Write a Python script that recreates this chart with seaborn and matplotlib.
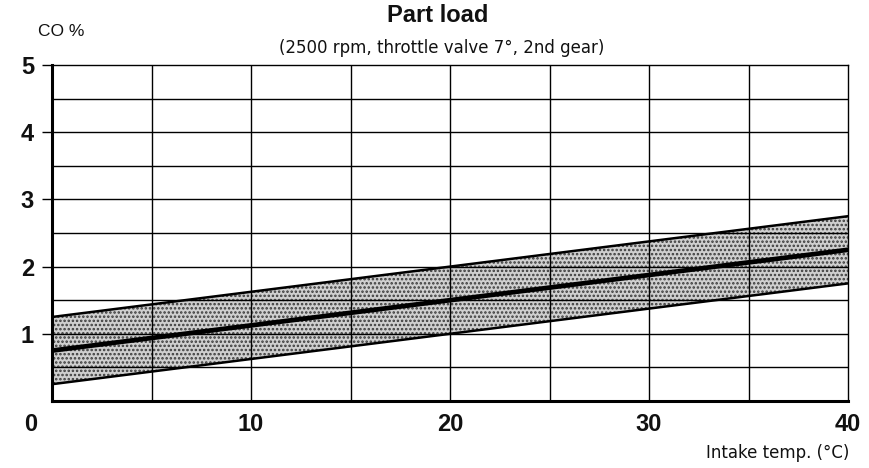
import matplotlib
matplotlib.use("Agg")
import matplotlib.pyplot as plt
import matplotlib.transforms as mtransforms
import seaborn as sns
import pandas as pd
import numpy as np

# Data
temps = [0, 40]
co_upper = [1.25, 2.75]
co_center = [0.75, 2.25]
co_lower = [0.25, 1.75]
x_ticks = [0, 10, 20, 30, 40]
y_ticks = [1, 2, 3, 4, 5]

sns.set_style("white")
plt.rcParams['font.family'] = ['Liberation Sans', 'DejaVu Sans']
plt.rcParams['hatch.linewidth'] = 1.2

fig = plt.figure(figsize=(8.69, 4.68), dpi=100)
ax = fig.add_axes([52/869, 1-401/468, (848-52)/869, (401-65)/468])

df = pd.DataFrame({"temp": temps, "upper": co_upper, "center": co_center, "lower": co_lower})

ax.fill_between(df["temp"], df["lower"], df["upper"], facecolor='#cfcfcf',
                edgecolor='#3a3a3a', hatch='....', linewidth=0, zorder=1)

# grid (visible through the band)
for xv in np.arange(5, 40, 5):
    ax.axvline(xv, color='black', lw=1.0, zorder=2)
for yv in np.arange(0.5, 5, 0.5):
    ax.axhline(yv, color='black', lw=1.0, zorder=2)

sns.lineplot(data=df, x="temp", y="upper", color='black', lw=1.8, ax=ax, zorder=3)
sns.lineplot(data=df, x="temp", y="lower", color='black', lw=1.8, ax=ax, zorder=3)
sns.lineplot(data=df, x="temp", y="center", color='black', lw=3.4, ax=ax, zorder=4)

ax.set_xlim(0, 40)
ax.set_ylim(0, 5)
ax.set_xlabel("")
ax.set_ylabel("")

for side in ['top', 'right']:
    ax.spines[side].set_linewidth(1.0)
for side in ['left', 'bottom']:
    ax.spines[side].set_linewidth(2.2)
for s in ax.spines.values():
    s.set_color('black')

ax.set_yticks(y_ticks)
ax.set_yticklabels([str(v) for v in y_ticks], fontsize=17, fontweight='bold', color='#111111')
ax.tick_params(axis='y', left=True, length=7, width=1.0, pad=6, color='black')
ax.set_xticks(x_ticks)
ax.set_xticklabels([str(v) for v in x_ticks], fontsize=17, fontweight='bold', color='#111111')
ax.tick_params(axis='x', bottom=False, pad=5)
lbl0 = ax.get_xticklabels()[0]
lbl0.set_transform(lbl0.get_transform() + mtransforms.ScaledTranslation(-0.21, 0, fig.dpi_scale_trans))

fig.text(438/869, 1-16/468, "Part load", ha='center', va='center', fontsize=17, fontweight='bold', color='#111111')
fig.text(442/869, 1-48/468, "(2500 rpm, throttle valve 7°, 2nd gear)", ha='center', va='center',
         fontsize=12, color='#111111', family=['DejaVu Sans'])
fig.text(38/869, 1-31/468, "CO %", ha='left', va='center', fontsize=12.5, color='#111111')
fig.text(849/869, 1-453/468, "Intake temp. (°C)", ha='right', va='center', fontsize=12,
         color='#111111', family=['DejaVu Sans'])

fig.savefig("out.png", dpi=100)
